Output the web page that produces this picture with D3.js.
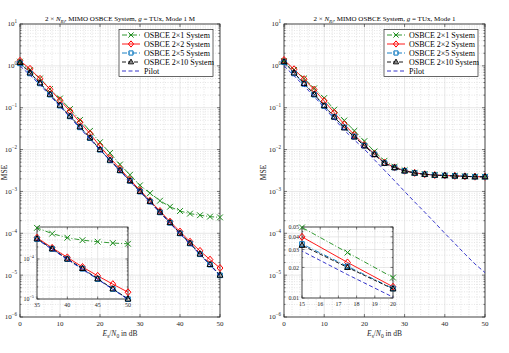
<!DOCTYPE html>
<html lang="en">
<head>
<meta charset="UTF-8">
<title>2 x N_R MIMO OSBCE System MSE</title>
<script src="https://d3js.org/d3.v7.min.js"></script>
<style>
  body { margin: 0; background: #fff; }
  svg { display: block; font-family: "Liberation Serif", "DejaVu Serif", serif; }
  .grid-major { stroke: #d6d6d6; stroke-width: 0.6; }
  .grid-minor { stroke: #cacaca; stroke-width: 0.5; stroke-dasharray: 1,1.5; }
  .frame { fill: none; stroke: #262626; stroke-width: 0.8; }
  .tick { stroke: #262626; stroke-width: 0.6; }
  .tick-label { fill: #262626; }
</style>
</head>
<body>
<svg width="509" height="353"></svg>
<script>
// Es/N0 in dB, one marker every 2.5 dB
const snr = [0, 2.5, 5, 7.5, 10, 12.5, 15, 17.5, 20, 22.5, 25, 27.5, 30, 32.5, 35, 37.5, 40, 42.5, 45, 47.5, 50];

// left panel: Mode 1 M
const left2x1  = [1.26, 0.79, 0.50, 0.28, 0.166, 0.093, 0.051, 0.028, 0.015, 8.3e-3, 4.4e-3, 2.5e-3, 1.4e-3, 9.1e-4, 6.0e-4, 4.3e-4, 3.4e-4, 2.95e-4, 2.7e-4, 2.5e-4, 2.4e-4];
const left2x2  = [1.32, 0.85, 0.49, 0.275, 0.15, 0.083, 0.045, 0.024, 0.012, 6.3e-3, 3.5e-3, 1.9e-3, 1.07e-3, 6.0e-4, 3.4e-4, 1.9e-4, 1.1e-4, 6.3e-5, 3.8e-5, 2.35e-5, 1.48e-5];
const left2x5  = [1.15, 0.66, 0.38, 0.205, 0.112, 0.062, 0.034, 0.0188, 9.9e-3, 5.5e-3, 3.15e-3, 1.78e-3, 9.9e-4, 5.7e-4, 3.15e-4, 1.78e-4, 9.9e-5, 5.7e-5, 3.15e-5, 1.78e-5, 9.9e-6];
const left2x10 = [1.2, 0.68, 0.39, 0.21, 0.115, 0.063, 0.035, 0.019, 0.01, 5.6e-3, 3.2e-3, 1.8e-3, 1.0e-3, 5.8e-4, 3.2e-4, 1.8e-4, 1.0e-4, 5.8e-5, 3.2e-5, 1.8e-5, 1.0e-5];
const leftPilot = [1.0, 0.6, 0.35, 0.195, 0.107, 0.059, 0.032, 0.0178, 9.8e-3, 5.5e-3, 3.1e-3, 1.74e-3, 9.8e-4, 5.5e-4, 3.1e-4, 1.74e-4, 9.8e-5, 5.5e-5, 3.1e-5, 1.74e-5, 9.8e-6];

// right panel: Mode 1
const right2x1  = [1.3, 0.8, 0.5, 0.29, 0.17, 0.09, 0.0495, 0.028, 0.0159, 9.0e-3, 5.4e-3, 3.9e-3, 3.2e-3, 2.8e-3, 2.6e-3, 2.47e-3, 2.4e-3, 2.35e-3, 2.3e-3, 2.26e-3, 2.25e-3];
const right2x2  = [1.38, 0.83, 0.48, 0.27, 0.145, 0.076, 0.04, 0.0224, 0.0129, 7.9e-3, 4.9e-3, 3.75e-3, 3.12e-3, 2.77e-3, 2.58e-3, 2.46e-3, 2.4e-3, 2.35e-3, 2.3e-3, 2.25e-3, 2.24e-3];
const right2x5  = [1.22, 0.66, 0.37, 0.205, 0.11, 0.06, 0.034, 0.0205, 0.0124, 7.7e-3, 4.75e-3, 3.7e-3, 3.1e-3, 2.75e-3, 2.57e-3, 2.45e-3, 2.4e-3, 2.34e-3, 2.29e-3, 2.24e-3, 2.24e-3];
const right2x10 = [1.26, 0.68, 0.38, 0.21, 0.112, 0.06, 0.033, 0.02, 0.0123, 7.6e-3, 4.7e-3, 3.7e-3, 3.1e-3, 2.75e-3, 2.57e-3, 2.45e-3, 2.4e-3, 2.34e-3, 2.29e-3, 2.24e-3, 2.24e-3];
const rightPilot = [1.0, 0.58, 0.33, 0.185, 0.1, 0.054, 0.029, 0.017, 0.0102, 5.7e-3, 3.2e-3, 1.8e-3, 1.0e-3, 5.6e-4, 3.2e-4, 1.8e-4, 1.0e-4, 5.7e-5, 3.2e-5, 1.85e-5, 1.15e-5];

const names = ["OSBCE 2\u00d71 System", "OSBCE 2\u00d72 System", "OSBCE 2\u00d75 System", "OSBCE 2\u00d710 System", "Pilot"];
const xTicks = [0, 10, 20, 30, 40, 50];
const leftInsetXTicks = [35, 40, 45, 50];
const rightInsetXTicks = [15, 16, 17, 18, 19, 20];
const rightInsetYTicks = [0.01, 0.02, 0.03, 0.04, 0.05];

const styles = [
  {color: "#1b8c1b", dash: "5,2,1,2", marker: "x"},
  {color: "#ff0000", dash: null,      marker: "diamond"},
  {color: "#0072bd", dash: "5,2,1,2", marker: "square"},
  {color: "#000000", dash: "4,2",     marker: "triangle"},
  {color: "#1f1fc4", dash: "4,2.5",   marker: null}
];

const svg = d3.select("svg");
const defs = svg.append("defs");

function markerPath(type, s) {
  if (type === "x") return `M${-s},${-s}L${s},${s}M${-s},${s}L${s},${-s}`;
  if (type === "diamond") return `M0,${-s * 1.2}L${s},0L0,${s * 1.2}L${-s},0Z`;
  if (type === "square") return `M${-s * 0.8},${-s * 0.8}H${s * 0.8}V${s * 0.8}H${-s * 0.8}Z`;
  if (type === "triangle") return `M0,${-s * 1.1}L${s},${s * 0.7}L${-s},${s * 0.7}Z`;
  return "";
}

function supLabel(sel, d, size) {
  const k = Math.round(Math.log10(d));
  sel.append("tspan").text("10");
  sel.append("tspan").attr("font-size", size * 0.72).attr("dy", -size * 0.45)
     .text(k < 0 ? "\u2212" + (-k) : k);
}

// grid, box, inward ticks and labels for one axes
function drawAxes(g, x, y, w, h, o) {
  g.append("rect").attr("width", w).attr("height", h).attr("fill", "#fff");
  g.append("g").selectAll("line").data(o.xMinor).join("line").attr("class", "grid-minor")
    .attr("x1", d => x(d)).attr("x2", d => x(d)).attr("y1", 0).attr("y2", h);
  g.append("g").selectAll("line").data(o.yMinor).join("line").attr("class", "grid-minor")
    .attr("y1", d => y(d)).attr("y2", d => y(d)).attr("x1", 0).attr("x2", w);
  g.append("g").selectAll("line").data(o.xTicks).join("line").attr("class", "grid-major")
    .attr("x1", d => x(d)).attr("x2", d => x(d)).attr("y1", 0).attr("y2", h);
  g.append("g").selectAll("line").data(o.yTicks).join("line").attr("class", "grid-major")
    .attr("y1", d => y(d)).attr("y2", d => y(d)).attr("x1", 0).attr("x2", w);

  // inward ticks on all four sides
  const t = g.append("g");
  o.xTicks.forEach(d => {
    t.append("line").attr("class", "tick").attr("x1", x(d)).attr("x2", x(d)).attr("y1", h).attr("y2", h - o.major);
    t.append("line").attr("class", "tick").attr("x1", x(d)).attr("x2", x(d)).attr("y1", 0).attr("y2", o.major);
  });
  o.yTicks.forEach(d => {
    t.append("line").attr("class", "tick").attr("y1", y(d)).attr("y2", y(d)).attr("x1", 0).attr("x2", o.major);
    t.append("line").attr("class", "tick").attr("y1", y(d)).attr("y2", y(d)).attr("x1", w).attr("x2", w - o.major);
  });
  o.yMinor.forEach(d => {
    t.append("line").attr("class", "tick").attr("y1", y(d)).attr("y2", y(d)).attr("x1", 0).attr("x2", o.minor);
    t.append("line").attr("class", "tick").attr("y1", y(d)).attr("y2", y(d)).attr("x1", w).attr("x2", w - o.minor);
  });
  g.append("rect").attr("class", "frame").attr("width", w).attr("height", h);

  g.append("g").selectAll("text").data(o.xTicks).join("text").attr("class", "tick-label")
    .attr("x", d => x(d)).attr("y", h + o.fs + 2).attr("text-anchor", "middle")
    .attr("font-size", o.fs).text(d => d);
  g.append("g").selectAll("text").data(o.yTicks).join("text").attr("class", "tick-label")
    .attr("x", -3).attr("y", d => y(d) + o.fs * 0.35).attr("text-anchor", "end")
    .attr("font-size", o.fs)
    .each(function(d) {
      if (o.yFormat) d3.select(this).text(o.yFormat(d));
      else supLabel(d3.select(this), d, o.fs);
    });
}

function drawSeries(g, x, y, w, h, data, clipId, ms) {
  defs.append("clipPath").attr("id", clipId).append("rect").attr("width", w).attr("height", h);
  const [x0, x1] = x.domain();
  const [y0, y1] = y.domain();
  data.forEach((vals, i) => {
    const s = styles[i];
    const pts = snr.map((d, j) => [d, vals[j]]);
    g.append("path").datum(pts)
      .attr("clip-path", `url(#${clipId})`)
      .attr("fill", "none").attr("stroke", s.color).attr("stroke-width", 0.9)
      .attr("stroke-dasharray", s.dash)
      .attr("d", d3.line().x(d => x(d[0])).y(d => y(d[1])));
    if (s.marker) {
      g.append("g").selectAll("path")
        .data(pts.filter(d => d[0] >= x0 && d[0] <= x1 && d[1] >= y0 * 0.98 && d[1] <= y1 * 1.02))
        .join("path")
        .attr("transform", d => `translate(${x(d[0])},${y(d[1])})`)
        .attr("d", markerPath(s.marker, ms))
        .attr("fill", "none").attr("stroke", s.color).attr("stroke-width", 1);
    }
  });
}

function drawLegend(g, left, top) {
  const bw = 94, rowH = 9;
  g.append("rect").attr("x", left).attr("y", top).attr("width", bw).attr("height", rowH * 5 + 2)
    .attr("fill", "#fff").attr("stroke", "#262626").attr("stroke-width", 0.7);
  names.forEach((n, i) => {
    const s = styles[i], cy = top + 5.5 + i * rowH;
    g.append("line").attr("x1", left + 3).attr("x2", left + 21).attr("y1", cy).attr("y2", cy)
      .attr("stroke", s.color).attr("stroke-width", 0.9).attr("stroke-dasharray", s.dash);
    if (s.marker) g.append("path").attr("transform", `translate(${left + 12},${cy})`)
      .attr("d", markerPath(s.marker, 2.6)).attr("fill", "none")
      .attr("stroke", s.color).attr("stroke-width", 1);
    g.append("text").attr("x", left + 25).attr("y", cy + 2.8).attr("font-size", 8)
      .attr("fill", "#000").text(n);
  });
}

function decadeMinor(lo, hi) {
  const out = [];
  for (let k = lo; k < hi; k++) for (let m = 2; m <= 9; m++) out.push(m * Math.pow(10, k));
  return out;
}

function drawPanel(px, py, w, h, data, mode, id, labelOffset) {
  const g = svg.append("g").attr("transform", `translate(${px},${py})`);
  const x = d3.scaleLinear().domain([0, 50]).range([0, w]);
  const y = d3.scaleLog().domain([1e-6, 10]).range([h, 0]);
  drawAxes(g, x, y, w, h, {
    xTicks: xTicks, xMinor: d3.range(2, 50, 2).filter(d => d % 10),
    yTicks: d3.range(-6, 2).map(k => Math.pow(10, k)), yMinor: decadeMinor(-6, 1),
    fs: 7, major: 3, minor: 1.6
  });
  drawSeries(g, x, y, w, h, data, "clip-" + id, 2.9);
  drawLegend(g, w - 101, 5.5);

  // title
  const t = g.append("text").attr("x", w / 2).attr("y", -3).attr("text-anchor", "middle")
    .attr("font-size", 7).attr("fill", "#000");
  t.append("tspan").text("2 \u00d7 ");
  t.append("tspan").attr("font-style", "italic").text("N");
  t.append("tspan").attr("font-size", 5).attr("font-style", "italic").attr("dy", 1.5).text("R");
  t.append("tspan").attr("font-size", 4).attr("font-style", "italic").attr("dy", 0.8).text("i");
  t.append("tspan").attr("dy", -2.3).text(", MIMO OSBCE System, ");
  t.append("tspan").attr("font-style", "italic").text("g");
  t.append("tspan").text(" = TUx, Mode " + mode);

  // x label
  const xl = g.append("text").attr("x", w / 2).attr("y", h + 19).attr("text-anchor", "middle")
    .attr("font-size", 7.5).attr("fill", "#262626");
  xl.append("tspan").attr("font-style", "italic").text("E");
  xl.append("tspan").attr("font-size", 5.5).attr("dy", 1.5).text("s");
  xl.append("tspan").attr("dy", -1.5).text("/");
  xl.append("tspan").attr("font-style", "italic").text("N");
  xl.append("tspan").attr("font-size", 5.5).attr("dy", 1.5).text("0");
  xl.append("tspan").attr("dy", -1.5).text(" in dB");

  // y label
  g.append("text").attr("transform", `translate(${-labelOffset},${h / 2 + 2}) rotate(-90)`)
    .attr("text-anchor", "middle").attr("font-size", 7.5).attr("fill", "#262626").text("MSE");
  return g;
}

// panels
drawPanel(20, 24, 200, 293, [left2x1, left2x2, left2x5, left2x10, leftPilot], "1 M", "l", 13);
drawPanel(284, 24, 201, 293, [right2x1, right2x2, right2x5, right2x10, rightPilot], "1", "r", 18);

// left inset: zoom on 35..50 dB, log scale
{
  const w = 91, h = 72;
  const g = svg.append("g").attr("transform", "translate(37,227)");
  const x = d3.scaleLinear().domain([35, 50]).range([0, w]);
  const y = d3.scaleLog().domain([1e-5, 6.3e-4]).range([h, 0]);
  drawAxes(g, x, y, w, h, {
    xTicks: leftInsetXTicks, xMinor: d3.range(36, 50).filter(d => d % 5),
    yTicks: [1e-5, 1e-4], yMinor: decadeMinor(-5, -3).filter(d => d < 6.3e-4),
    fs: 6, major: 2.5, minor: 1.3
  });
  drawSeries(g, x, y, w, h, [left2x1, left2x2, left2x5, left2x10, leftPilot], "clip-li", 2.9);
}

// right inset: zoom on 15..20 dB, log scale with decimal labels
{
  const w = 91, h = 71;
  const g = svg.append("g").attr("transform", "translate(302,227)");
  const x = d3.scaleLinear().domain([15, 20]).range([0, w]);
  const y = d3.scaleLog().domain([0.01, 0.05]).range([h, 0]);
  drawAxes(g, x, y, w, h, {
    xTicks: rightInsetXTicks, xMinor: d3.range(15.5, 20, 1),
    yTicks: rightInsetYTicks, yMinor: [0.015, 0.025, 0.035, 0.045],
    fs: 6, major: 2.5, minor: 1.3, yFormat: d3.format(".2f")
  });
  drawSeries(g, x, y, w, h, [right2x1, right2x2, right2x5, right2x10, rightPilot], "clip-ri", 2.9);
}
</script>
</body>
</html>
